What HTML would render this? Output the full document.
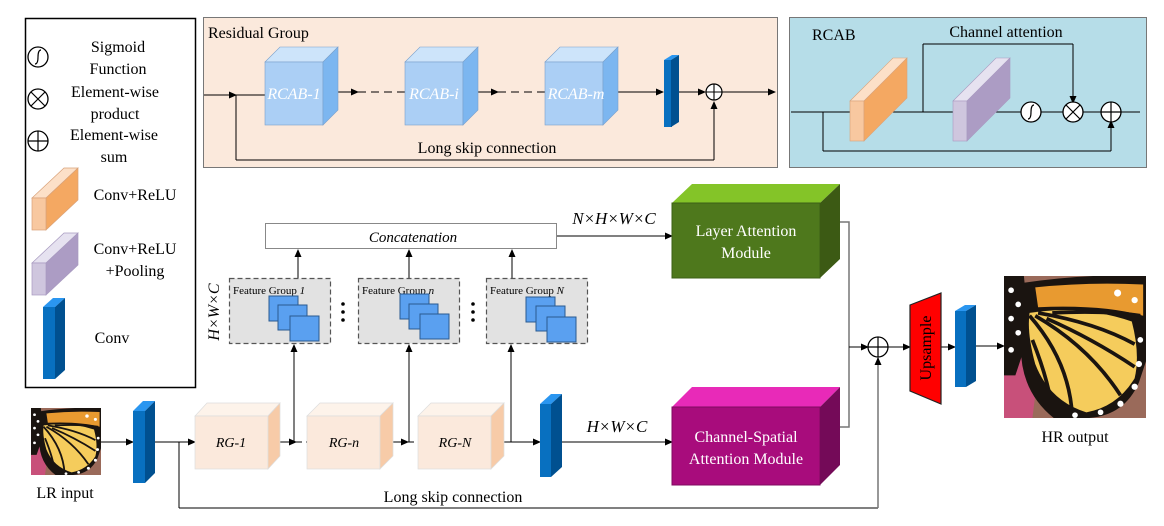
<!DOCTYPE html>
<html><head><meta charset="utf-8"><style>
html,body{margin:0;padding:0;background:#fff;}
svg{display:block;font-family:"Liberation Serif",serif;}
</style></head><body>
<svg width="1164" height="526" viewBox="0 0 1164 526" xmlns="http://www.w3.org/2000/svg">
<defs>
<marker id="a" markerWidth="8" markerHeight="8" refX="7" refY="4" orient="auto" markerUnits="userSpaceOnUse"><path d="M0,0.5 L8,4 L0,7.5z" fill="#000"/></marker>
<g id="bf">
<rect x="0" y="0" width="100" height="100" fill="#9a6a5a"/>
<path d="M0,40 L15,35 L25,60 L20,100 L0,100z" fill="#c8507a"/>
<path d="M0,0 L14,0 L18,40 L8,70 L0,70z" fill="#1a1410"/>
<path d="M12,5 Q60,-2 100,0 L100,60 L95,75 Q85,98 60,100 L35,100 Q10,80 12,45z" fill="#1a1410"/>
<path d="M22,8 Q60,4 98,6 L98,28 Q70,20 24,22z" fill="#e89a30"/>
<path d="M18,26 Q55,20 90,32 Q96,55 92,72 Q80,92 58,96 Q32,88 22,62 Q16,40 18,26z" fill="#f5cc5c"/>
<g stroke="#1a1410" stroke-width="2.6" fill="none">
<path d="M18,28 Q46,60 48,98"/><path d="M22,28 Q60,50 82,84"/><path d="M24,26 Q65,33 92,48"/><path d="M20,45 Q32,75 34,96"/><path d="M34,26 Q70,24 96,28"/><path d="M30,30 Q62,44 92,64"/>
</g>
<g fill="#fff"><circle cx="5" cy="10" r="2"/><circle cx="10" cy="20" r="2"/><circle cx="5" cy="30" r="2"/><circle cx="10" cy="40" r="2"/><circle cx="5" cy="52" r="2"/><circle cx="95" cy="62" r="2.2"/><circle cx="92" cy="78" r="2.2"/><circle cx="82" cy="90" r="2.2"/><circle cx="68" cy="96" r="2"/><circle cx="96" cy="45" r="2"/><circle cx="80" cy="12" r="2.5"/><circle cx="92" cy="17" r="2.2"/><circle cx="50" cy="98" r="2"/></g>
</g>
</defs>

<!-- Legend -->
<rect x="25.5" y="18.5" width="170" height="369" fill="#fff" stroke="#000" stroke-width="1.5"/>
<circle cx="38" cy="57" r="10" fill="#fff" stroke="#000" stroke-width="1.3"/>
<path d="M35,64 Q38,64 38,57 Q38,50 41,50" fill="none" stroke="#000" stroke-width="1.2"/>
<text x="118" y="52" font-size="16" text-anchor="middle">Sigmoid</text>
<text x="118" y="74" font-size="16" text-anchor="middle">Function</text>
<circle cx="38" cy="99" r="10" fill="#fff" stroke="#000" stroke-width="1.3"/>
<path d="M31,92 L45,106 M45,92 L31,106" stroke="#000" stroke-width="1.2"/>
<text x="115" y="97" font-size="16" text-anchor="middle">Element-wise</text>
<text x="115" y="119" font-size="16" text-anchor="middle">product</text>
<circle cx="38" cy="141" r="10" fill="#fff" stroke="#000" stroke-width="1.3"/>
<path d="M28,141 L48,141 M38,131 L38,151" stroke="#000" stroke-width="1.2"/>
<text x="114" y="140" font-size="16" text-anchor="middle">Element-wise</text>
<text x="114" y="162" font-size="16" text-anchor="middle">sum</text>
<path d="M32,198 L46,198 L78,168 L64,168z" fill="#fce0c8" stroke="#d9a27a" stroke-width="0.7"/>
<path d="M46,198 L78,168 L78,200 L46,230z" fill="#f4a862" stroke="#d9a27a" stroke-width="0.7"/>
<rect x="32" y="198" width="14" height="32" fill="#f8c8a0" stroke="#d9a27a" stroke-width="0.7"/>
<text x="135" y="200" font-size="16" text-anchor="middle">Conv+ReLU</text>
<path d="M32,263 L46,263 L78,233 L64,233z" fill="#e6e2f0" stroke="#a89ac0" stroke-width="0.7"/>
<path d="M46,263 L78,233 L78,265 L46,295z" fill="#ac9cc4" stroke="#a89ac0" stroke-width="0.7"/>
<rect x="32" y="263" width="14" height="32" fill="#cfc6de" stroke="#a89ac0" stroke-width="0.7"/>
<text x="135" y="254" font-size="16" text-anchor="middle">Conv+ReLU</text>
<text x="135" y="276" font-size="16" text-anchor="middle">+Pooling</text>
<path d="M43,307 L55,307 L65,298 L53,298z" fill="#2a96f0"/>
<rect x="43" y="307" width="12" height="72" fill="#0870c0"/>
<path d="M55,307 L65,298 L65,370 L55,379z" fill="#005090"/>
<text x="112" y="343" font-size="16" text-anchor="middle">Conv</text>

<!-- Residual Group -->
<rect x="203.5" y="17.5" width="574" height="150" fill="#fbe9dc" stroke="#777" stroke-width="1"/>
<text x="208" y="38" font-size="16">Residual Group</text>
<g stroke="#000" stroke-width="1" fill="none">
<line x1="204" y1="95" x2="265" y2="95"/>
<line x1="236" y1="95" x2="236" y2="160"/>
<line x1="236" y1="160" x2="714" y2="160"/>
<line x1="714" y1="160" x2="714" y2="102" marker-end="url(#a)"/>
<line x1="333" y1="92" x2="358" y2="92" marker-end="url(#a)"/>
<line x1="358" y1="92" x2="405" y2="92" stroke-dasharray="8,5"/>
<line x1="473" y1="92" x2="498" y2="92" marker-end="url(#a)"/>
<line x1="498" y1="92" x2="545" y2="92" stroke-dasharray="8,5"/>
<line x1="613" y1="92" x2="663" y2="92" marker-end="url(#a)"/>
<line x1="677" y1="92" x2="705" y2="92" marker-end="url(#a)"/>
<line x1="722" y1="92" x2="775" y2="92" marker-end="url(#a)"/>
</g>
<path d="M220,95 L236,95" stroke="#000" marker-end="url(#a)"/>
<g>
<path d="M265,62 L323,62 L338,47 L280,47z" fill="#cde4fa" stroke="#7aa0cc" stroke-width="0.6"/>
<rect x="265" y="62" width="58" height="63" fill="#abcff5" stroke="#7aa0cc" stroke-width="0.6"/>
<path d="M323,62 L338,47 L338,110 L323,125z" fill="#7cb6f0" stroke="#7aa0cc" stroke-width="0.6"/>
<text x="294" y="99" font-size="16" fill="#fff" font-style="italic" text-anchor="middle">RCAB-1</text>
<path d="M405,62 L463,62 L478,47 L420,47z" fill="#cde4fa" stroke="#7aa0cc" stroke-width="0.6"/>
<rect x="405" y="62" width="58" height="63" fill="#abcff5" stroke="#7aa0cc" stroke-width="0.6"/>
<path d="M463,62 L478,47 L478,110 L463,125z" fill="#7cb6f0" stroke="#7aa0cc" stroke-width="0.6"/>
<text x="434" y="99" font-size="16" fill="#fff" font-style="italic" text-anchor="middle">RCAB-i</text>
<path d="M545,62 L603,62 L618,47 L560,47z" fill="#cde4fa" stroke="#7aa0cc" stroke-width="0.6"/>
<rect x="545" y="62" width="58" height="63" fill="#abcff5" stroke="#7aa0cc" stroke-width="0.6"/>
<path d="M603,62 L618,47 L618,110 L603,125z" fill="#7cb6f0" stroke="#7aa0cc" stroke-width="0.6"/>
<text x="576" y="99" font-size="16" fill="#fff" font-style="italic" text-anchor="middle">RCAB-m</text>
</g>
<path d="M664,60 L671,60 L679,55 L672,55z" fill="#2a96f0"/>
<rect x="664" y="60" width="8" height="67" fill="#0870c0"/>
<path d="M671,60 L679,55 L679,122 L671,127z" fill="#005090"/>
<circle cx="714" cy="92" r="8" fill="#fff" stroke="#000" stroke-width="1.2"/>
<path d="M706,92 L722,92 M714,84 L714,100" stroke="#000" stroke-width="1.1"/>
<text x="487" y="153" font-size="16" text-anchor="middle">Long skip connection</text>

<!-- RCAB -->
<rect x="789.5" y="17.5" width="357" height="150" fill="#b6dde8" stroke="#777" stroke-width="1"/>
<text x="812" y="40" font-size="16">RCAB</text>
<text x="1006" y="37" font-size="16" text-anchor="middle">Channel attention</text>
<g stroke="#000" stroke-width="1" fill="none">
<line x1="791" y1="112" x2="1140" y2="112"/>
<line x1="823" y1="112" x2="823" y2="151"/>
<line x1="823" y1="151" x2="1111" y2="151"/>
<line x1="1111" y1="151" x2="1111" y2="121" marker-end="url(#a)"/>
<line x1="923" y1="112" x2="923" y2="44"/>
<line x1="923" y1="44" x2="1073" y2="44"/>
<line x1="1073" y1="44" x2="1073" y2="103" marker-end="url(#a)"/>
</g>
<path d="M850,101 L864,101 L907,58 L893,58z" fill="#fce0c8" stroke="#d9a27a" stroke-width="0.6"/>
<rect x="850" y="101" width="14" height="40" fill="#f8c8a0" stroke="#d9a27a" stroke-width="0.6"/>
<path d="M864,101 L907,58 L907,98 L864,141z" fill="#f4a862" stroke="#d9a27a" stroke-width="0.6"/>
<path d="M953,101 L967,101 L1010,58 L996,58z" fill="#e6e2f0" stroke="#a89ac0" stroke-width="0.6"/>
<rect x="953" y="101" width="14" height="40" fill="#cfc6de" stroke="#a89ac0" stroke-width="0.6"/>
<path d="M967,101 L1010,58 L1010,98 L967,141z" fill="#ac9cc4" stroke="#a89ac0" stroke-width="0.6"/>
<circle cx="1031" cy="112" r="10" fill="#fff" stroke="#000" stroke-width="1.3"/>
<path d="M1028,119 Q1031,119 1031,112 Q1031,105 1034,105" fill="none" stroke="#000" stroke-width="1.2"/>
<circle cx="1073" cy="112" r="10" fill="#fff" stroke="#000" stroke-width="1.3"/>
<path d="M1066,105 L1080,119 M1080,105 L1066,119" stroke="#000" stroke-width="1.2"/>
<circle cx="1111" cy="112" r="10" fill="#fff" stroke="#000" stroke-width="1.3"/>
<path d="M1101,112 L1121,112 M1111,102 L1111,122" stroke="#000" stroke-width="1.2"/>

<!-- main pipeline lines -->
<g stroke="#000" stroke-width="1" fill="none">
<line x1="101" y1="442" x2="133" y2="442" marker-end="url(#a)"/>
<line x1="150" y1="442" x2="195" y2="442" marker-end="url(#a)"/>
<line x1="179" y1="442" x2="179" y2="508"/>
<line x1="179" y1="508" x2="878" y2="508"/>
<line x1="878" y1="508" x2="878" y2="358" marker-end="url(#a)" stroke="#777" stroke-width="1.5"/>
<line x1="280" y1="442" x2="296" y2="442" marker-end="url(#a)"/>
<line x1="296" y1="442" x2="307" y2="442" stroke-dasharray="6,4"/>
<line x1="393" y1="442" x2="408" y2="442" marker-end="url(#a)"/>
<line x1="408" y1="442" x2="418" y2="442" stroke-dasharray="6,4"/>
<line x1="496" y1="442" x2="540" y2="442" marker-end="url(#a)"/>
<line x1="562" y1="442" x2="672" y2="442" marker-end="url(#a)"/>
<line x1="294" y1="442" x2="294" y2="345" marker-end="url(#a)"/>
<line x1="409" y1="442" x2="409" y2="345" marker-end="url(#a)"/>
<line x1="511" y1="442" x2="511" y2="345" marker-end="url(#a)"/>
<line x1="298" y1="278" x2="298" y2="250" marker-end="url(#a)"/>
<line x1="409" y1="278" x2="409" y2="250" marker-end="url(#a)"/>
<line x1="512" y1="278" x2="512" y2="250" marker-end="url(#a)"/>
<line x1="557" y1="236" x2="672" y2="236" marker-end="url(#a)"/>
<polyline points="840,222 849,222 849,427 840,427" stroke="#777" stroke-width="1.5"/>
<line x1="849" y1="347" x2="868" y2="347" marker-end="url(#a)"/>
<line x1="888" y1="347" x2="910" y2="347" marker-end="url(#a)"/>
<line x1="941" y1="347" x2="955" y2="347" marker-end="url(#a)"/>
<line x1="976" y1="346" x2="1004" y2="346" marker-end="url(#a)"/>
</g>

<svg x="31" y="408" width="70" height="67" viewBox="0 0 100 100" preserveAspectRatio="none"><use href="#bf"/></svg>
<text x="65" y="498" font-size="16" text-anchor="middle">LR input</text>
<path d="M133,411 L145,411 L155,401 L143,401z" fill="#2a96f0"/>
<rect x="133" y="411" width="12" height="72" fill="#0870c0"/>
<path d="M145,411 L155,401 L155,473 L145,483z" fill="#005090"/>

<g>
<path d="M195,416 L268,416 L280,403 L207,403z" fill="#fdf3ea" stroke="#ddd" stroke-width="0.7"/>
<rect x="195" y="416" width="73" height="53" fill="#fbe9dc" stroke="#ddd" stroke-width="0.7"/>
<path d="M268,416 L280,403 L280,456 L268,469z" fill="#f7cba8" stroke="#ddd" stroke-width="0.7"/>
<text x="231" y="447" font-size="14" font-style="italic" text-anchor="middle">RG-1</text>
<path d="M307,416 L380,416 L393,403 L320,403z" fill="#fdf3ea" stroke="#ddd" stroke-width="0.7"/>
<rect x="307" y="416" width="73" height="53" fill="#fbe9dc" stroke="#ddd" stroke-width="0.7"/>
<path d="M380,416 L393,403 L393,456 L380,469z" fill="#f7cba8" stroke="#ddd" stroke-width="0.7"/>
<text x="344" y="447" font-size="14" font-style="italic" text-anchor="middle">RG-n</text>
<path d="M418,416 L491,416 L504,403 L431,403z" fill="#fdf3ea" stroke="#ddd" stroke-width="0.7"/>
<rect x="418" y="416" width="73" height="53" fill="#fbe9dc" stroke="#ddd" stroke-width="0.7"/>
<path d="M491,416 L504,403 L504,456 L491,469z" fill="#f7cba8" stroke="#ddd" stroke-width="0.7"/>
<text x="455" y="447" font-size="14" font-style="italic" text-anchor="middle">RG-N</text>
</g>
<path d="M540,404 L551,404 L562,394 L551,394z" fill="#2a96f0"/>
<rect x="540" y="404" width="11" height="73" fill="#0870c0"/>
<path d="M551,404 L562,394 L562,467 L551,477z" fill="#005090"/>
<text x="617" y="432" font-size="17" font-style="italic" text-anchor="middle">H×W×C</text>

<rect x="265.5" y="223.5" width="291" height="25" fill="#fff" stroke="#888" stroke-width="1"/>
<text x="413" y="242" font-size="15" font-style="italic" text-anchor="middle">Concatenation</text>
<text x="614" y="224" font-size="17" font-style="italic" text-anchor="middle">N×H×W×C</text>
<text x="0" y="0" font-size="16" font-style="italic" text-anchor="middle" transform="translate(219,312) rotate(-90)">H×W×C</text>

<g>
<rect x="229.5" y="278.5" width="101" height="65" fill="#e2e2e2" stroke="#555" stroke-width="1.2" stroke-dasharray="5,3"/>
<text x="233" y="294" font-size="11">Feature Group <tspan font-style="italic">1</tspan></text>
<rect x="269" y="296" width="29" height="25" fill="#5aa0f0" stroke="#2a5a90"/>
<rect x="278" y="305" width="29" height="25" fill="#5aa0f0" stroke="#2a5a90"/>
<rect x="290" y="316" width="29" height="25" fill="#5aa0f0" stroke="#2a5a90"/>
<rect x="358.5" y="278.5" width="101" height="65" fill="#e2e2e2" stroke="#555" stroke-width="1.2" stroke-dasharray="5,3"/>
<text x="362" y="294" font-size="11">Feature Group <tspan font-style="italic">n</tspan></text>
<rect x="400" y="294" width="29" height="25" fill="#5aa0f0" stroke="#2a5a90"/>
<rect x="409" y="304" width="29" height="25" fill="#5aa0f0" stroke="#2a5a90"/>
<rect x="420" y="314" width="29" height="25" fill="#5aa0f0" stroke="#2a5a90"/>
<rect x="486.5" y="278.5" width="101" height="65" fill="#e2e2e2" stroke="#555" stroke-width="1.2" stroke-dasharray="5,3"/>
<text x="490" y="294" font-size="11">Feature Group <tspan font-style="italic">N</tspan></text>
<rect x="526" y="297" width="29" height="25" fill="#5aa0f0" stroke="#2a5a90"/>
<rect x="536" y="306" width="29" height="25" fill="#5aa0f0" stroke="#2a5a90"/>
<rect x="547" y="317" width="29" height="25" fill="#5aa0f0" stroke="#2a5a90"/>
<g fill="#000"><circle cx="343" cy="304" r="1.8"/><circle cx="343" cy="312" r="1.8"/><circle cx="343" cy="320" r="1.8"/>
<circle cx="473" cy="304" r="1.8"/><circle cx="473" cy="312" r="1.8"/><circle cx="473" cy="320" r="1.8"/></g>
</g>

<path d="M672,203 L820,203 L840,184 L692,184z" fill="#84c428"/>
<rect x="672" y="203" width="148" height="75" fill="#4e781c" stroke="#3c6016" stroke-width="1"/>
<path d="M820,203 L840,184 L840,259 L820,278z" fill="#3c5a14"/>
<text x="746" y="236" font-size="16" fill="#fff" text-anchor="middle">Layer Attention</text>
<text x="746" y="258" font-size="16" fill="#fff" text-anchor="middle">Module</text>
<path d="M672,407 L820,407 L840,387 L692,387z" fill="#e82ab8"/>
<rect x="672" y="407" width="148" height="78" fill="#a80c7c" stroke="#800a60" stroke-width="1"/>
<path d="M820,407 L840,387 L840,465 L820,485z" fill="#740a58"/>
<text x="746" y="442" font-size="16" fill="#fff" text-anchor="middle">Channel-Spatial</text>
<text x="746" y="464" font-size="16" fill="#fff" text-anchor="middle">Attention Module</text>

<circle cx="878" cy="347" r="10" fill="#fff" stroke="#000" stroke-width="1.3"/>
<path d="M868,347 L888,347 M878,337 L878,357" stroke="#000" stroke-width="1.2"/>
<path d="M910,305 L941,293 L941,404 L910,391z" fill="#f00" stroke="#222" stroke-width="1.2"/>
<text x="0" y="0" font-size="16" text-anchor="middle" transform="translate(931,348) rotate(-90)">Upsample</text>
<path d="M955,311 L966,311 L976,305 L965,305z" fill="#2a96f0"/>
<rect x="955" y="311" width="11" height="76" fill="#0870c0"/>
<path d="M966,311 L976,305 L976,381 L966,387z" fill="#005090"/>
<svg x="1004" y="276" width="142" height="142" viewBox="0 0 100 100" preserveAspectRatio="none"><use href="#bf"/></svg>
<text x="1075" y="442" font-size="16" text-anchor="middle">HR output</text>

<text x="453" y="502" font-size="16" text-anchor="middle">Long skip connection</text>
</svg>
</body></html>
